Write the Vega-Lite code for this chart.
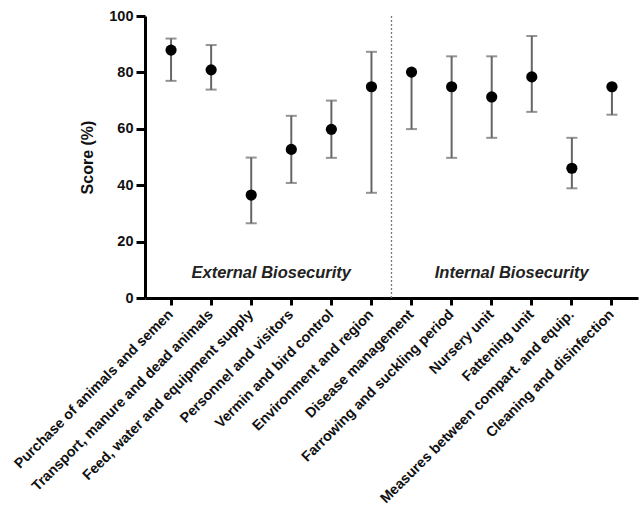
{
  "$schema": "https://vega.github.io/schema/vega-lite/v6.json",
  "autosize": {"type": "none"},
  "padding": {"left": 145, "top": 16, "right": 5, "bottom": 215},
  "width": 493,
  "height": 282,
  "background": "white",
  "config": {
    "font": "Liberation Sans",
    "view": {"stroke": null},
    "axis": {"grid": false}
  },
  "datasets": {
    "scores": [
      {"category": "Purchase of animals and semen", "group": "External", "score": 87.9, "lower": 77.0, "upper": 92.0},
      {"category": "Transport, manure and dead animals", "group": "External", "score": 80.9, "lower": 73.9, "upper": 89.7},
      {"category": "Feed, water and equipment supply", "group": "External", "score": 36.5, "lower": 26.5, "upper": 49.8},
      {"category": "Personnel and visitors", "group": "External", "score": 52.7, "lower": 40.8, "upper": 64.6},
      {"category": "Vermin and bird control", "group": "External", "score": 59.8, "lower": 49.7, "upper": 70.0},
      {"category": "Environment and region", "group": "External", "score": 74.9, "lower": 37.3, "upper": 87.3},
      {"category": "Disease management", "group": "Internal", "score": 80.1, "lower": 59.9, "upper": 80.1},
      {"category": "Farrowing and suckling period", "group": "Internal", "score": 74.9, "lower": 49.7, "upper": 85.7},
      {"category": "Nursery unit", "group": "Internal", "score": 71.3, "lower": 56.8, "upper": 85.7},
      {"category": "Fattening unit", "group": "Internal", "score": 78.4, "lower": 66.0, "upper": 92.9},
      {"category": "Measures between compart. and equip.", "group": "Internal", "score": 46.0, "lower": 38.9, "upper": 56.8},
      {"category": "Cleaning and disinfection", "group": "Internal", "score": 74.9, "lower": 65.0, "upper": 74.9}
    ],
    "labels": [
      {"label": "External Biosecurity", "category": "Feed, water and equipment supply", "y": 8.7},
      {"label": "Internal Biosecurity", "category": "Nursery unit", "y": 8.7}
    ]
  },
  "encoding": {
    "x": {
      "field": "category",
      "type": "nominal",
      "sort": null,
      "scale": {
        "type": "band",
        "paddingInner": 0,
        "paddingOuter": 0.15,
        "domain": [
          "Purchase of animals and semen",
          "Transport, manure and dead animals",
          "Feed, water and equipment supply",
          "Personnel and visitors",
          "Vermin and bird control",
          "Environment and region",
          "Disease management",
          "Farrowing and suckling period",
          "Nursery unit",
          "Fattening unit",
          "Measures between compart. and equip.",
          "Cleaning and disinfection"
        ]
      },
      "axis": {
        "title": null,
        "labelAngle": -45,
        "labelAlign": "right",
        "labelBaseline": "middle",
        "labelFont": "Liberation Sans",
        "labelFontWeight": "bold",
        "labelFontSize": 14.3,
        "labelColor": "#111111",
        "labelPadding": 7,
        "labelOverlap": false,
        "labelLimit": 400,
        "domainColor": "black",
        "domainWidth": 3,
        "tickColor": "black",
        "tickWidth": 3,
        "tickSize": 7
      }
    }
  },
  "layer": [
    {
      "data": {"name": "scores"},
      "mark": {"type": "rule", "color": "#666666", "strokeWidth": 2},
      "encoding": {
        "y": {
          "field": "lower",
          "type": "quantitative",
          "scale": {"domain": [0, 100], "nice": false},
          "axis": {
            "title": "Score (%)",
            "titleFont": "Liberation Sans",
            "titleFontWeight": "bold",
            "titleFontSize": 16,
            "titleColor": "#111111",
            "titlePadding": 13,
            "values": [0, 20, 40, 60, 80, 100],
            "labelFont": "Liberation Sans",
            "labelFontWeight": "bold",
            "labelFontSize": 14.5,
            "labelColor": "#111111",
            "labelPadding": 3,
            "domainColor": "black",
            "domainWidth": 3,
            "tickColor": "black",
            "tickWidth": 3,
            "tickSize": 9
          }
        },
        "y2": {"field": "upper"}
      }
    },
    {
      "data": {"name": "scores"},
      "mark": {"type": "tick", "color": "#666666", "thickness": 2, "size": 11},
      "encoding": {"y": {"field": "upper", "type": "quantitative"}}
    },
    {
      "data": {"name": "scores"},
      "mark": {"type": "tick", "color": "#666666", "thickness": 2, "size": 11},
      "encoding": {"y": {"field": "lower", "type": "quantitative"}}
    },
    {
      "data": {"name": "scores"},
      "mark": {"type": "circle", "color": "black", "opacity": 1, "size": 125},
      "encoding": {"y": {"field": "score", "type": "quantitative"}}
    },
    {
      "data": {"values": [{"v": 0}]},
      "mark": {"type": "rule", "color": "#777777", "strokeWidth": 1.3, "strokeDash": [2, 2]},
      "encoding": {
        "x": {"datum": "Environment and region", "bandPosition": 1},
        "y": {"datum": 0},
        "y2": {"datum": 100}
      }
    },
    {
      "data": {"name": "labels"},
      "mark": {"type": "text", "font": "Liberation Sans", "fontStyle": "italic", "fontWeight": "bold", "fontSize": 16.5, "color": "#222222", "align": "center", "baseline": "middle"},
      "encoding": {
        "x": {"field": "category", "type": "nominal", "bandPosition": 1},
        "y": {"field": "y", "type": "quantitative"},
        "text": {"field": "label"}
      }
    }
  ]
}
